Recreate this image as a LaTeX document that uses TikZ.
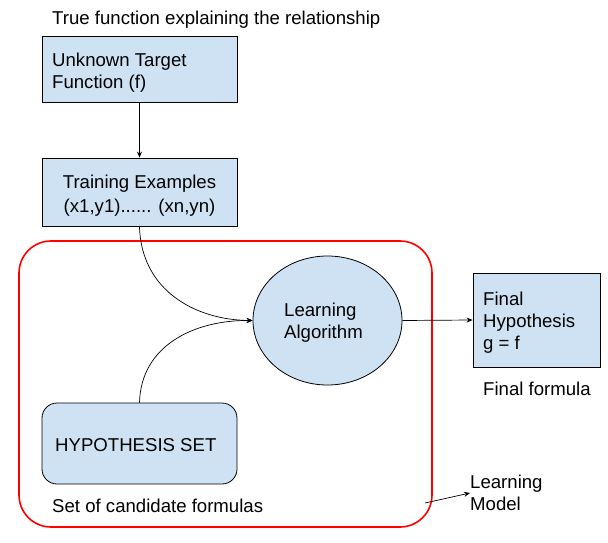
\documentclass[tikz,border=0pt]{standalone}
\usepackage{fontspec}
\setmainfont{Liberation Sans}
\usetikzlibrary{arrows.meta,shapes.geometric}
\definecolor{boxblue}{HTML}{CFE2F3}
\begin{document}
\begin{tikzpicture}[x=1pt,y=-1pt,
  every node/.style={font=\fontsize{18.6}{22}\selectfont, inner sep=0pt},
  sqbox/.style={draw=black, fill=boxblue, line width=0.8pt},
  lbl/.style={anchor=west, align=left},
  conn/.style={line width=0.7pt, -{Stealth[length=6pt,width=5pt]}}]
\useasboundingbox (0,0) rectangle (608,543);
% red container
\draw[red, line width=1.6pt, rounded corners=32pt] (19,241) rectangle (432,527);
% boxes
\node[sqbox, minimum width=195pt, minimum height=66pt] (tf) at (139.5,69) {};
\node[lbl] at (52,73) {Unknown Target\\Function (f)};
\node[sqbox, minimum width=195pt, minimum height=68pt] (te) at (139.5,192) {};
\node[align=center, font=\fontsize{18.6}{24}\selectfont] at (139.5,196) {Training Examples\\(x1,y1)...... (xn,yn)};
\node[sqbox, ellipse, minimum width=149pt, minimum height=129pt] (la) at (327.5,320.5) {};
\node[lbl] at (284,323) {Learning\\Algorithm};
\node[sqbox, rounded corners=15pt, minimum width=195pt, minimum height=81pt] (hs) at (139.5,443.5) {};
\node[lbl] at (55,445) {HYPOTHESIS SET};
\node[sqbox, minimum width=127pt, minimum height=94pt] (fh) at (536.5,320) {};
\node[lbl] at (483,323) {Final\\Hypothesis\\g = f};
% texts
\node[lbl] (t1) at (52,20) {True function explaining the relationship};
\node[lbl] (t2) at (483,389) {Final formula};
\node[lbl] (t3) at (52,506) {Set of candidate formulas};
\node[lbl] (t4) at (470,493) {Learning\\Model};
\coordinate (rc) at (425,503);
% connectors
\draw[conn] (tf.south) -- (te.north);
\draw[conn] (te.south) .. controls (141,290) and (195,320) .. (la.west);
\draw[conn] (hs.north) .. controls (141,345) and (195,320) .. (la.west);
\draw[conn] (la.east) -- (fh.west);
\draw[conn] (rc) -- (t4.west);
\end{tikzpicture}
\end{document}
